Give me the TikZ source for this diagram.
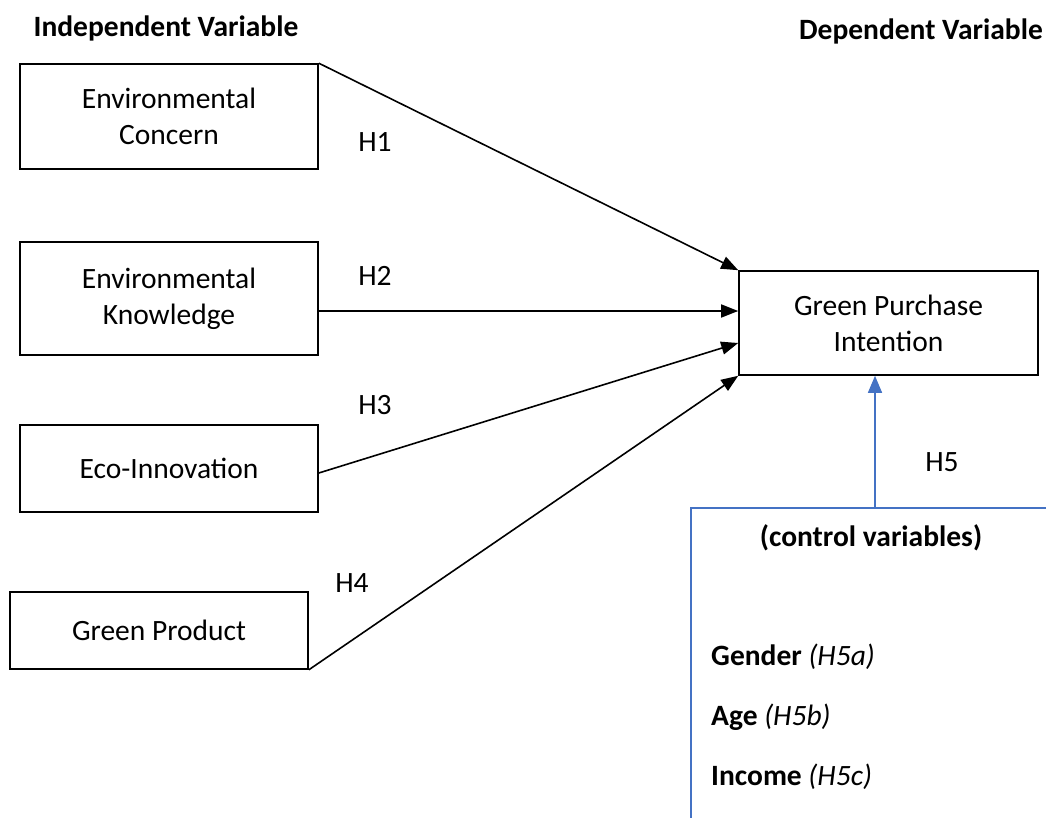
\documentclass[tikz,border=0pt]{standalone}
\usepackage{fontspec}
\setmainfont{Carlito}
\usetikzlibrary{arrows.meta,calc}
\definecolor{ctrlblue}{HTML}{4472C4}
\begin{document}
\begin{tikzpicture}[x=1pt,y=-1pt,
  every node/.style={font=\fontsize{29.5}{36}\selectfont},
  head/.style={font=\fontsize{29.5}{36}\selectfont\bfseries,inner sep=0pt},
  varbox/.style={draw,line width=1.6pt,align=center,inner sep=0pt},
  hlabel/.style={inner sep=0pt},
  arr/.style={line width=1.6pt,-{Triangle[length=17pt,width=13pt]}},
  barr/.style={draw=ctrlblue,line width=1.4pt,-{Triangle[length=17pt,width=14pt]}},
  bline/.style={draw=ctrlblue,line width=1.4pt}]
\useasboundingbox (0,0) rectangle (1046,818);

\node[head] (iv) at (166,28) {Independent Variable};
\node[head,anchor=east] (dv) at (1043,31) {Dependent Variable};

\node[varbox,minimum width=298pt,minimum height=105pt] (ec) at (169,116.5) {Environmental\\Concern};
\node[varbox,minimum width=298pt,minimum height=113pt] (ek) at (169,298.5) {Environmental\\Knowledge};
\node[varbox,minimum width=298pt,minimum height=87pt] (eco) at (169,468.5) {Eco-Innovation};
\node[varbox,minimum width=298pt,minimum height=77pt] (gp) at (159,630.5) {Green Product};
\node[varbox,minimum width=299pt,minimum height=104pt] (gpi) at (888.5,323) {Green Purchase\\Intention};

\coordinate (ekout) at (ek.east |- 0,311);
\coordinate (gpiek) at (gpi.west |- 0,311);
\coordinate (ecoout) at (eco.east |- 0,473);
\coordinate (gpieco) at (gpi.west |- 0,343);

\draw[arr] (ec.north east) -- (gpi.north west);
\draw[arr] (ekout) -- (gpiek);
\draw[arr] (ecoout) -- (gpieco);
\draw[arr] (gp.south east) -- (gpi.south west);

\node[hlabel] (h1) at (375,142) {H1};
\node[hlabel] (h2) at (375,276) {H2};
\node[hlabel] (h3) at (375,405) {H3};
\node[hlabel] (h4) at (352,583) {H4};
\node[hlabel] (h5) at (942,462) {H5};

\coordinate (h5top) at (875,508);
\coordinate (cvleft) at (691,508);
\coordinate (cvright) at (1046,508);
\coordinate (cvbottom) at (691,818);
\draw[bline] (cvbottom) -- (cvleft) -- (cvright);
\draw[barr] (h5top) -- (h5top |- gpi.south);

\node[head] (cv) at (871,538) {(control variables)};
\node[anchor=west,inner sep=0pt] (gen) at (711,657) {\textbf{Gender} \textit{(H5a)}};
\node[anchor=west,inner sep=0pt] (age) at (711,717) {\textbf{Age} \textit{(H5b)}};
\node[anchor=west,inner sep=0pt] (inc) at (711,777) {\textbf{Income} \textit{(H5c)}};
\end{tikzpicture}
\end{document}
